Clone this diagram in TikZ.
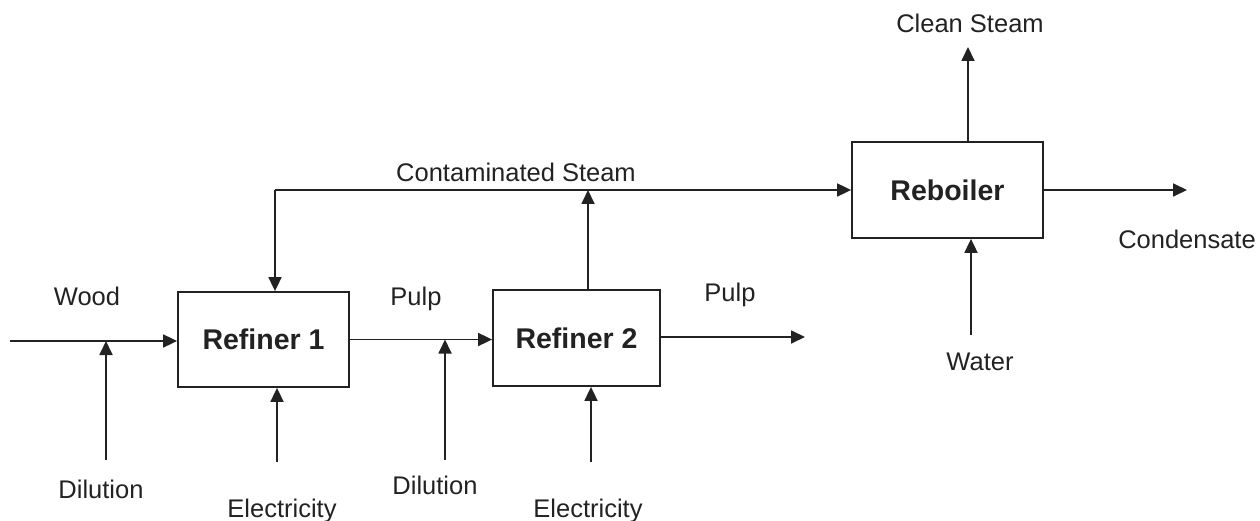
\documentclass[tikz,border=0pt]{standalone}
\usepackage{fontspec}
\setmainfont{Liberation Sans}
\usetikzlibrary{arrows.meta}
\definecolor{ink}{HTML}{222222}
\begin{document}
\begin{tikzpicture}[x=1pt,y=-1pt,
  unitbox/.style={draw=ink,line width=1.8pt,fill=white,inner sep=0pt,
    font=\fontsize{28.5}{32}\selectfont\bfseries,text=ink},
  flow/.style={draw=ink,line width=1.8pt,-{Triangle[length=14pt,width=13pt]}},
  plainline/.style={draw=ink,line width=1.8pt},
  lbl/.style={anchor=base,inner sep=0pt,font=\fontsize{25.5}{30}\selectfont,text=ink}]
\useasboundingbox (0,0) rectangle (1260,521);
% units
\node[unitbox,minimum width=171pt,minimum height=95pt] (r1) at (263.5,339.5) {Refiner 1};
\node[unitbox,minimum width=167pt,minimum height=96pt] (r2) at (576.5,338) {Refiner 2};
\node[unitbox,minimum width=191pt,minimum height=96pt] (rb) at (947.5,190) {Reboiler};
% coordinates
\coordinate (w0) at (10,341);
\coordinate (d1) at (106,460);
\coordinate (e1) at (277,462);
\coordinate (d2) at (445,460);
\coordinate (e2) at (591,462);
\coordinate (po) at (805,337);
\coordinate (t2) at (588,190);
\coordinate (c0) at (275,190);
\coordinate (cs) at (968,47);
\coordinate (wa) at (971,335);
\coordinate (co) at (1187,190);
% connectors
\draw[flow] (w0) -- (w0 -| r1.west);
\draw[flow] (d1) -- (d1 |- w0);
\draw[flow] (e1) -- (e1 |- r1.south);
\draw[flow] (r1.east) -- (r1.east -| r2.west);
\draw[flow] (d2) -- (d2 |- r1.east);
\draw[flow] (e2) -- (e2 |- r2.south);
\draw[flow] (po -| r2.east) -- (po);
\draw[flow] (t2 |- r2.north) -- (t2);
\draw[flow] (c0) -- (c0 -| rb.west);
\draw[flow] (c0) -- (c0 |- r1.north);
\draw[flow] (cs |- rb.north) -- (cs);
\draw[flow] (wa) -- (wa |- rb.south);
\draw[flow] (rb.east) -- (co);
% labels
\node[lbl] (lwood) at (87,305) {Wood};
\node[lbl] (ldil1) at (101,498) {Dilution};
\node[lbl] (lel1) at (282,517) {Electricity};
\node[lbl] (lpulp1) at (416,305) {Pulp};
\node[lbl] (ldil2) at (435,494) {Dilution};
\node[lbl] (lel2) at (588,517) {Electricity};
\node[lbl] (lpulp2) at (730,301) {Pulp};
\node[lbl] (lcont) at (516,182) {Contaminated Steam};
\node[lbl] (lclean) at (970,33) {Clean Steam};
\node[lbl] (lcond) at (1187,248) {Condensate};
\node[lbl] (lwater) at (980,370) {Water};
\end{tikzpicture}
\end{document}
